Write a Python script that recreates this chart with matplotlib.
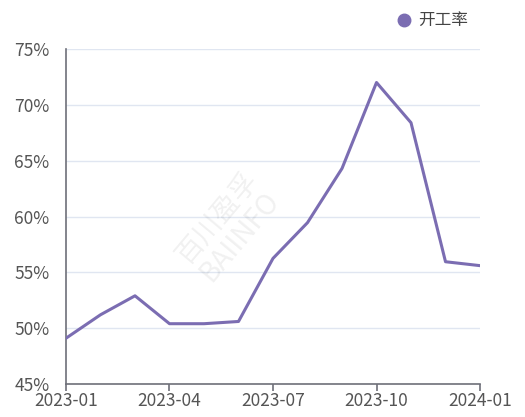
import matplotlib.pyplot as plt
from matplotlib.lines import Line2D

plt.rcParams['font.family'] = ['Noto Sans CJK SC', 'DejaVu Sans']

# 开工率 monthly data
months = ["2023-01", "2023-02", "2023-03", "2023-04", "2023-05", "2023-06", "2023-07",
          "2023-08", "2023-09", "2023-10", "2023-11", "2023-12", "2024-01"]
rate = [49.1, 51.2, 52.9, 50.4, 50.4, 50.6, 56.25, 59.45, 64.3, 72.0, 68.4, 55.95, 55.6]
tick_idx = [0, 3, 6, 9, 12]
y_ticks = [45, 50, 55, 60, 65, 70, 75]

line_color = '#7b6db2'
axis_color = '#6e7079'
text_color = '#555555'

fig = plt.figure(figsize=(5.25, 4.17), dpi=100)
ax = fig.add_axes([0.1257, 0.0791, 0.7886, 0.8034])

xs = list(range(len(months)))
ax.plot(xs, rate, color=line_color, linewidth=2.2, zorder=3)

ax.set_xlim(0, len(months) - 1)
ax.set_ylim(45, 75)
ax.set_yticks(y_ticks)
ax.set_yticklabels([f"{v}%" for v in y_ticks])
ax.set_xticks(tick_idx)
ax.set_xticklabels([months[i] for i in tick_idx])

ax.grid(axis='y', color='#e0e6f1', linewidth=1)
ax.set_axisbelow(True)
for s in ['top', 'right']:
    ax.spines[s].set_visible(False)
for s in ['left', 'bottom']:
    ax.spines[s].set_color(axis_color)
    ax.spines[s].set_linewidth(1.2)
ax.tick_params(axis='y', length=0, pad=12, labelsize=12.5, labelcolor=text_color)
ax.tick_params(axis='x', length=5, width=1.2, color=axis_color, pad=1,
               labelsize=12.5, labelcolor=text_color)

# watermark
fig.text(0.435, 0.455, "百川盈孚\nBAIINFO", rotation=50, fontsize=20, color='#000000',
         alpha=0.06, ha='center', va='center', linespacing=0.95)

handle = Line2D([], [], marker='o', linestyle='none', markersize=9,
                markerfacecolor=line_color, markeredgecolor=line_color)
fig.legend([handle], ["开工率"], loc='center', bbox_to_anchor=(0.822, 0.95),
           frameon=False, fontsize=12, handletextpad=0.35, handlelength=1.0,
           labelcolor='#444444')

fig.savefig('out.png', dpi=100)
